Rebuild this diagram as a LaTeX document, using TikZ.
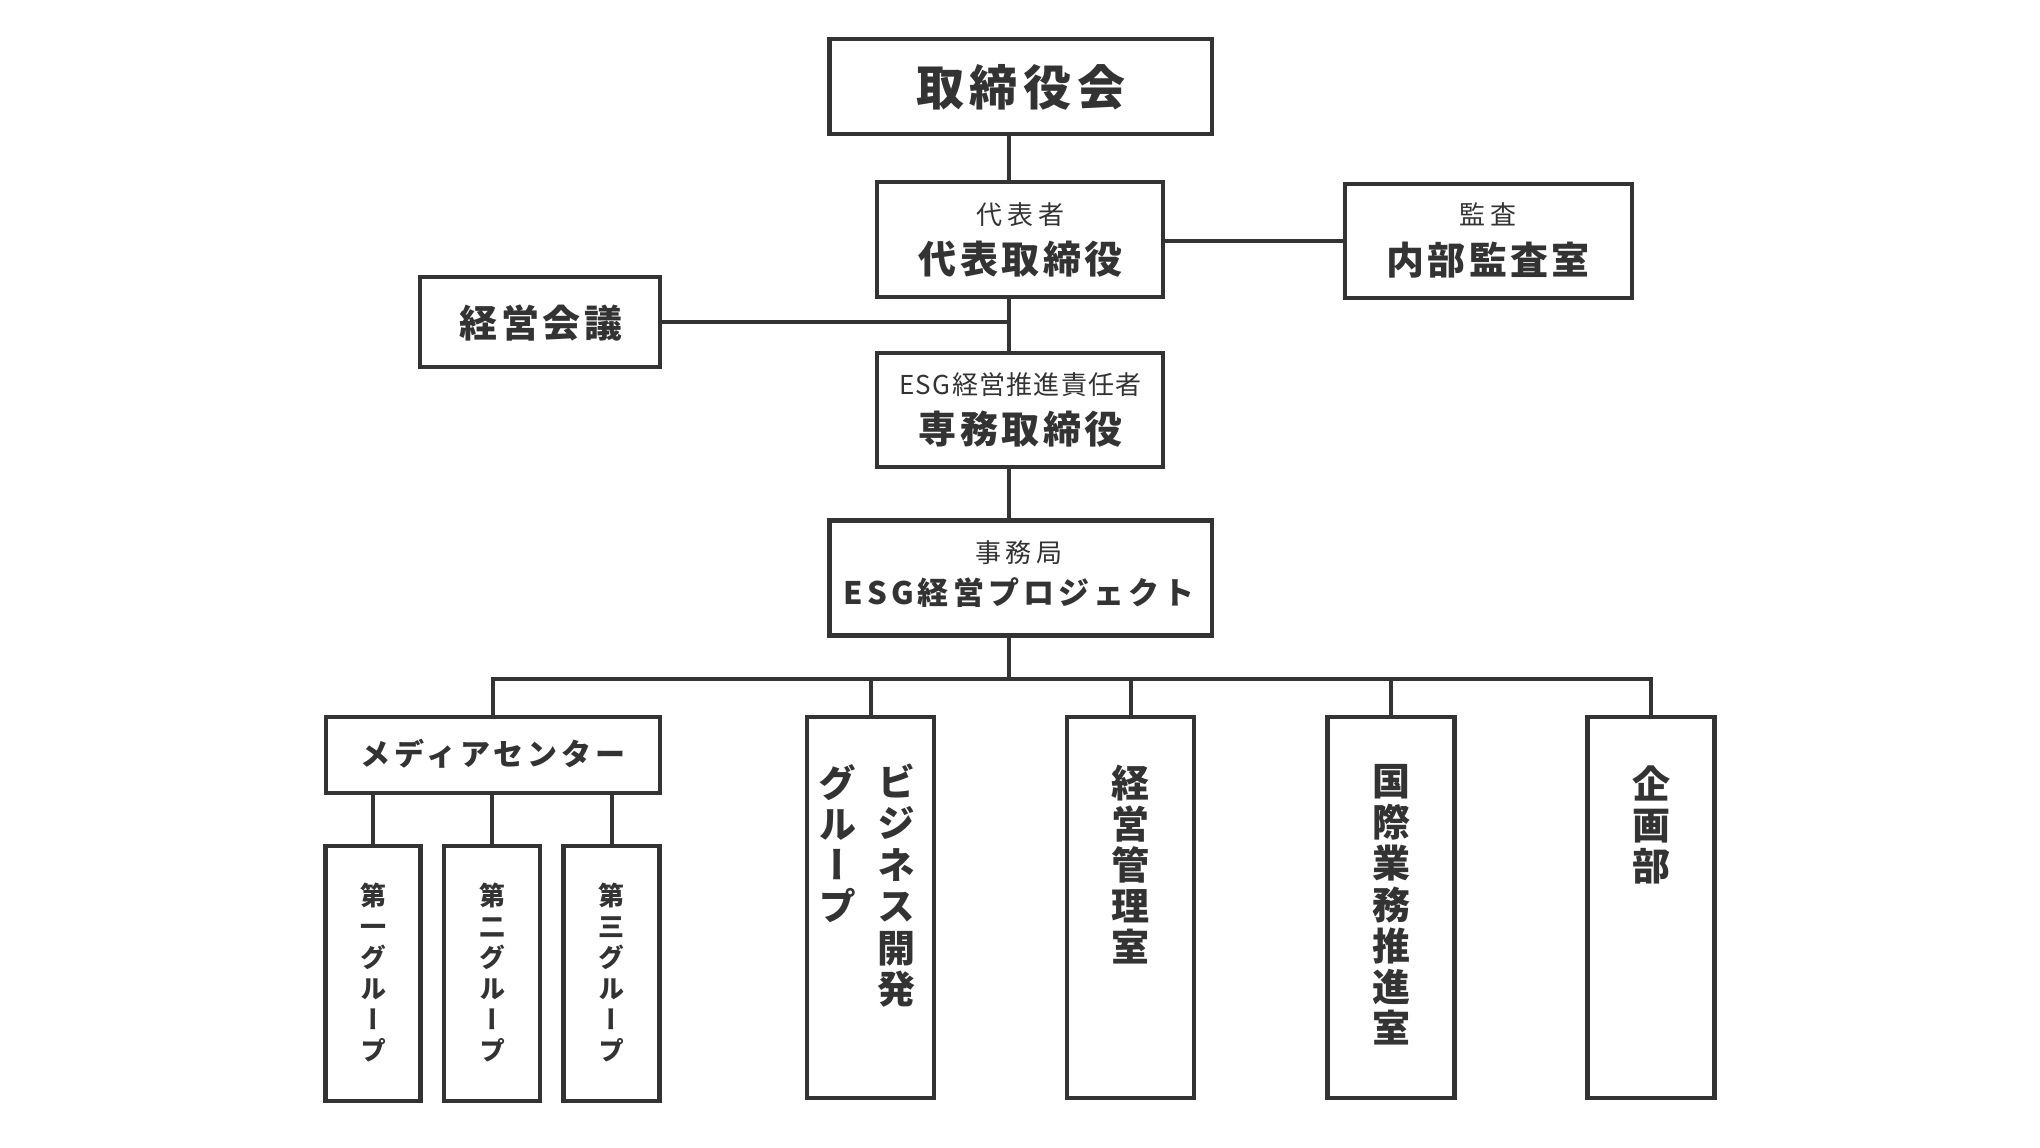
\documentclass[tikz,border=0pt]{standalone}
\usepackage{fontspec}
\setmainfont{Noto Sans CJK JP}
\usetikzlibrary{calc}
\definecolor{ink}{HTML}{333333}
\tikzset{
  box/.style={draw=ink, line width=4.5pt, fill=white, inner sep=0pt, outer sep=0pt},
  conn/.style={draw=ink, line width=4pt},
  ttitle/.style={text=ink, inner sep=0pt, text height=42pt, text depth=6pt,
    font=\fontsize{48}{58}\selectfont\bfseries\addfontfeatures{LetterSpace=12}},
  tmain/.style={text=ink, inner sep=0pt, text height=33.4pt, text depth=4.6pt,
    font=\fontsize{38}{46}\selectfont\bfseries\addfontfeatures{LetterSpace=9}},
  tsmall/.style={text=ink, inner sep=0pt, text height=22.9pt, text depth=3.1pt,
    font=\fontsize{26}{32}\selectfont\addfontfeatures{LetterSpace=18}},
  tsmallnarrow/.style={text=ink, inner sep=0pt, text height=22.9pt, text depth=3.1pt,
    font=\fontsize{26}{32}\selectfont\addfontfeatures{LetterSpace=5}},
  tesg/.style={text=ink, inner sep=0pt, text height=27.3pt, text depth=3.7pt,
    font=\fontsize{31}{38}\selectfont\bfseries\addfontfeatures{LetterSpace=13}},
  tmedia/.style={text=ink, inner sep=0pt, text height=26.4pt, text depth=3.6pt,
    font=\fontsize{30}{36}\selectfont\bfseries\addfontfeatures{LetterSpace=13}},
  vbig/.style={text=ink, inner sep=0pt, text height=33.4pt, text depth=4.6pt,
    font=\fontsize{38}{46}\selectfont\bfseries\addfontfeatures{RawFeature=+vert}},
  vsmall/.style={text=ink, inner sep=0pt, text height=22.9pt, text depth=3.1pt,
    font=\fontsize{26}{32}\selectfont\bfseries\addfontfeatures{RawFeature=+vert}},
}
% name, x, ytop, step, style, list of characters
\newcommand\vcol[6]{%
  \foreach \ch [count=\k from 0] in {#6}{\node[#5] (#1-\k) at (#2,{#3+\k*#4}) {\ch};}}
\begin{document}
\begin{tikzpicture}[x=1pt,y=-1pt]
\useasboundingbox (0,0) rectangle (2040,1148);
\fill[white] (0,0) rectangle (2040,1148);
\coordinate (sp) at (1009,0);
\coordinate (bus) at (1009,679);

% boxes
\node[box, minimum width=382.5pt, minimum height=95pt] (board) at (1020.75,86.5) {};
\node[box, minimum width=286pt, minimum height=115pt] (rep) at (1020,239.5) {};
\node[box, minimum width=287pt, minimum height=114pt] (audit) at (1488.5,241) {};
\node[box, minimum width=240pt, minimum height=90pt] (meeting) at (540,322) {};
\node[box, minimum width=286pt, minimum height=114pt] (senior) at (1020,410) {};
\node[box, minimum width=382.5pt, minimum height=115pt] (esg) at (1020.75,578) {};
\node[box, minimum width=334pt, minimum height=76pt] (media) at (493,755) {};
\node[box, minimum width=95pt, minimum height=255pt] (sub1) at (373,973.5) {};
\node[box, minimum width=96pt, minimum height=255pt] (sub2) at (492,973.5) {};
\node[box, minimum width=96pt, minimum height=255pt] (sub3) at (611.5,973.5) {};
\node[box, minimum width=127pt, minimum height=381pt] (biz) at (870.5,907.3) {};
\node[box, minimum width=127pt, minimum height=381pt] (keiei) at (1130.7,907.3) {};
\node[box, minimum width=127pt, minimum height=381pt] (kokusai) at (1391,907.3) {};
\node[box, minimum width=127pt, minimum height=381pt] (kikaku) at (1651,907.3) {};

% connectors
\draw[conn] (board.south -| sp) -- (rep.north -| sp);
\draw[conn] (rep.south -| sp) -- (senior.north -| sp);
\draw[conn] (meeting.east) -- (meeting.east -| sp);
\draw[conn] (audit.west -| rep.east) -- (audit.west);
\draw[conn] (senior.south -| sp) -- (esg.north -| sp);
\draw[conn] (esg.south -| sp) -- (bus);
\draw[conn] (media.north) -- (media.north |- bus) -- (kikaku.north |- bus) -- (kikaku.north);
\draw[conn] (biz.north |- bus) -- (biz.north);
\draw[conn] (keiei.north |- bus) -- (keiei.north);
\draw[conn] (kokusai.north |- bus) -- (kokusai.north);
\draw[conn] (media.south -| sub1.north) -- (sub1.north);
\draw[conn] (media.south -| sub2.north) -- (sub2.north);
\draw[conn] (media.south -| sub3.north) -- (sub3.north);

% texts
\node[ttitle] (board-t) at (1020.75,87) {取締役会};
\node[tsmall] (rep-s) at (1020.6,214.7) {代表者};
\node[tmain] (rep-t) at (1020.6,259) {代表取締役};
\node[tsmall] (audit-s) at (1488,215) {監査};
\node[tmain] (audit-t) at (1488,260) {内部監査室};
\node[tmain] (meeting-t) at (541,323) {経営会議};
\node[tsmallnarrow] (senior-s) at (1020.6,385) {ESG経営推進責任者};
\node[tmain] (senior-t) at (1020.6,429) {専務取締役};
\node[tsmall] (esg-s) at (1019,553) {事務局};
\node[tesg] (esg-t) at (1019,593) {ESG経営プロジェクト};
\node[tmedia] (media-t) at (493,754.5) {メディアセンター};

\vcol{sub1t}{373}{896}{31}{vsmall}{第,一,グ,ル,ー,プ}
\vcol{sub2t}{492}{896}{31}{vsmall}{第,二,グ,ル,ー,プ}
\vcol{sub3t}{611.5}{896}{31}{vsmall}{第,三,グ,ル,ー,プ}
\vcol{bizA}{896.5}{782}{41.4}{vbig}{ビ,ジ,ネ,ス,開,発}
\vcol{bizB}{837}{783}{41}{vbig}{グ,ル,ー,プ}
\vcol{keieit}{1130.7}{783}{41}{vbig}{経,営,管,理,室}
\vcol{kokusait}{1391}{781}{41.2}{vbig}{国,際,業,務,推,進,室}
\vcol{kikakut}{1651}{784}{41}{vbig}{企,画,部}
\end{tikzpicture}
\end{document}
